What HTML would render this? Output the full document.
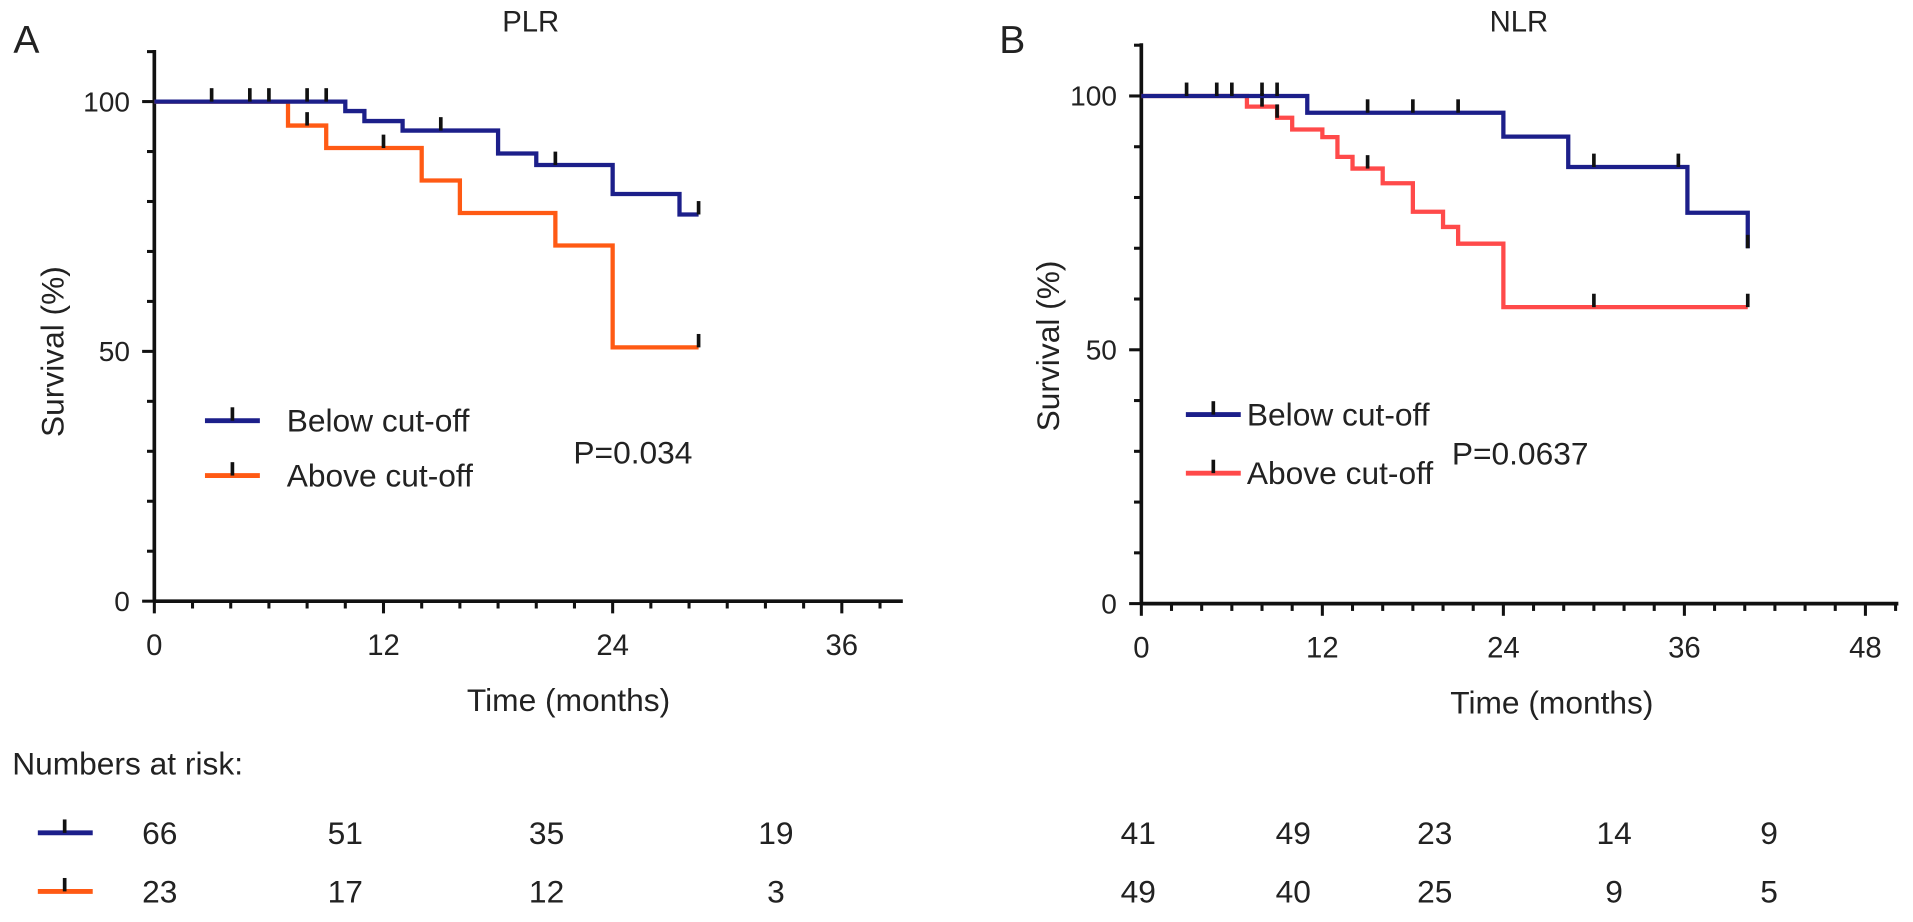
<!DOCTYPE html>
<html><head><meta charset="utf-8"><style>
body{margin:0;background:#fff;}
svg text{font-family:"Liberation Sans",Arial,sans-serif;fill:#222;}
</style></head><body>
<svg id="chart" width="1913" height="917" viewBox="0 0 1568 752" preserveAspectRatio="none" xmlns="http://www.w3.org/2000/svg">
<g id="root"></g>
</svg>
<script>
// Panel A (PLR)
const aBelowTimes=[0,10,11,13,18,20,24,27.5,28.5];
const aBelowSurv=[100,98.1,96.1,94.2,89.6,87.3,81.5,77.4,77.4];
const aBelowCens=[3,5,6,8,9,15,21,28.5];
const aAboveTimes=[0,7,9,14,16,21,24,28.5];
const aAboveSurv=[100,95.2,90.7,84.2,77.7,71.2,50.8,50.8];
const aAboveCens=[8,12,28.5];
const aXTicks=[0,12,24,36];
const aRiskBelow=["66","51","35","19"];
const aRiskAbove=["23","17","12","3"];
// Panel B (NLR)
const bBelowTimes=[0,11,24,28.3,36.2,40.2];
const bBelowSurv=[100,96.7,92,86,77,70];
const bBelowCens=[3,5,6,8,9,15,18,21,30,35.6,40.2];
const bAboveTimes=[0,7,9,10,12,13,14,16,18,20,21,24,40.2];
const bAboveSurv=[100,97.9,95.7,93.4,91.9,88,85.7,82.8,77.2,74.2,70.9,58.4,58.4];
const bAboveCens=[8,9,15,30,40.2];
const bXTicks=[0,12,24,36,48];
const bRiskBelow=["41","49","23","14","9"];
const bRiskAbove=["49","40","25","9","5"];
const yTicks=[0,50,100];

const NS="http://www.w3.org/2000/svg";
const root=document.getElementById('root');
function el(tag,attrs,parent,text){const e=document.createElementNS(NS,tag);for(const k in attrs)e.setAttribute(k,attrs[k]);if(text!==undefined)e.textContent=text;(parent||root).appendChild(e);return e;}

function panel(cfg){
  const g=el('g',{});
  
  
  const xs=t=>cfg.x0+(t)*(cfg.x1-cfg.x0)/cfg.xmax;
  const ys=v=>cfg.y0-(v)*(cfg.y0-cfg.y100)/100;
  const ya=el('line',{x1:cfg.x0,y1:cfg.yTop,x2:cfg.x0,y2:cfg.y0+1,stroke:'#111','stroke-width':3},g);
  
  const xa=el('line',{x1:cfg.x0-1,y1:cfg.y0,x2:cfg.xEnd,y2:cfg.y0,stroke:'#111','stroke-width':3},g);
  
  for(let v=0;v<=110;v+=10){const y=ys(v);if(y<cfg.yTop-1)break;el('line',{x1:cfg.x0-(v%50===0?10:6),y1:y,x2:cfg.x0,y2:y,stroke:'#111','stroke-width':2.5},g);}
  for(let t=0;xs(t)<=cfg.xEnd+1;t+=2){el('line',{x1:xs(t),y1:cfg.y0,x2:xs(t),y2:cfg.y0+(t%12===0?10:6),stroke:'#111','stroke-width':2.5},g);}
  yTicks.forEach(v=>{const t=el('text',{x:cfg.x0-20,y:ys(v)+8,'font-size':23,'text-anchor':'end'},g,String(v));});
  cfg.xTicks.forEach(v=>{const t=el('text',{x:xs(v),y:cfg.y0+44,'font-size':24,'text-anchor':'middle'},g,String(v));});
  const xt=el('text',{x:cfg.xTitleX,y:cfg.y0+90,'font-size':26,'text-anchor':'middle'},g,'Time (months)');
  
  const yt=el('text',{x:0,y:0,'font-size':26,'text-anchor':'middle',transform:`translate(${cfg.yTitleX},${cfg.y100+205}) rotate(-90)`},g,'Survival (%)');
  
  const ti=el('text',{x:cfg.titleX,y:26,'font-size':24,'text-anchor':'middle'},g,cfg.title);
  
  const lt=el('text',{x:cfg.letterX,y:43.5,'font-size':32},g,cfg.letter);
  
  function curve(times,surv,cens,color,name){
    let d=`M${xs(times[0])},${ys(surv[0])}`;
    for(let i=1;i<times.length;i++){d+=` H${xs(times[i])} V${ys(surv[i])}`;}
    const p=el('path',{d:d,fill:'none',stroke:color,'stroke-width':3.5},g);
    
    cens.forEach(c=>{let s=surv[0];for(let i=0;i<times.length;i++){if(times[i]<=c)s=surv[i];}
      const m=el('line',{x1:xs(c),y1:ys(s),x2:xs(c),y2:ys(s)-11,stroke:'#111','stroke-width':3},g);
      });
  }
  curve(cfg.aboveT,cfg.aboveS,cfg.aboveC,cfg.aboveColor,'above-cutoff-curve');
  curve(cfg.belowT,cfg.belowS,cfg.belowC,'#1c1f8a','below-cutoff-curve');
  function leg(y,color,label,name){
    const lg=el('g',{},g);
    el('line',{x1:cfg.legX,y1:y,x2:cfg.legX+cfg.legW,y2:y,stroke:color,'stroke-width':4},lg);
    el('line',{x1:cfg.legX+cfg.legW/2,y1:y,x2:cfg.legX+cfg.legW/2,y2:y-11,stroke:'#111','stroke-width':3},lg);
    el('text',{x:cfg.legTextX,y:y+9,'font-size':26},lg,label);
  }
  leg(cfg.legY1,'#1c1f8a','Below cut-off','legend-below');
  leg(cfg.legY2,cfg.aboveColor,'Above cut-off','legend-above');
  const pv=el('text',{x:cfg.pX,y:cfg.pY,'font-size':26},g,cfg.p);
  
  cfg.riskX.forEach((x,i)=>{
    const a=el('text',{x:x,y:692,'font-size':26,'text-anchor':'middle'},g,cfg.riskB[i]);
    
    const b=el('text',{x:x,y:740,'font-size':26,'text-anchor':'middle'},g,cfg.riskA[i]);
    
  });
}
panel({name:'panel-a-plr',x0:126.5,x1:690,xmax:36,xEnd:740,y0:493,y100:83.3,yTop:41,xTicks:aXTicks,
  xTitleX:466,yTitleX:52,titleX:435,title:'PLR',letter:'A',letterX:11,
  belowT:aBelowTimes,belowS:aBelowSurv,belowC:aBelowCens,aboveT:aAboveTimes,aboveS:aAboveSurv,aboveC:aAboveCens,aboveColor:'#ff5a14',
  legX:168,legW:45,legTextX:235,legY1:345,legY2:390,pX:470,pY:380,p:'P=0.034',
  riskX:[131,283,448,636],riskB:aRiskBelow,riskA:aRiskAbove});
panel({name:'panel-b-nlr',x0:935.5,x1:1529,xmax:48,xEnd:1556,y0:495,y100:78.7,yTop:35.5,xTicks:bXTicks,
  xTitleX:1272,yTitleX:868,titleX:1245,title:'NLR',letter:'B',letterX:819,
  belowT:bBelowTimes,belowS:bBelowSurv,belowC:bBelowCens,aboveT:bAboveTimes,aboveS:bAboveSurv,aboveC:bAboveCens,aboveColor:'#ff4a4a',
  legX:972,legW:45,legTextX:1022,legY1:340,legY2:388,pX:1190,pY:381,p:'P=0.0637',
  riskX:[933,1060,1176,1323,1450],riskB:bRiskBelow,riskA:bRiskAbove});
const nh=el('text',{x:10,y:635,'font-size':26},root,'Numbers at risk:');

[[683,'#1c1f8a','risk-legend-below'],[731,'#ff5a14','risk-legend-above']].forEach(r=>{
  const g=el('g',{});
  el('line',{x1:31,y1:r[0],x2:76,y2:r[0],stroke:r[1],'stroke-width':4},g);
  el('line',{x1:53,y1:r[0],x2:53,y2:r[0]-11,stroke:'#111','stroke-width':3},g);
});
</script>
</body></html>
